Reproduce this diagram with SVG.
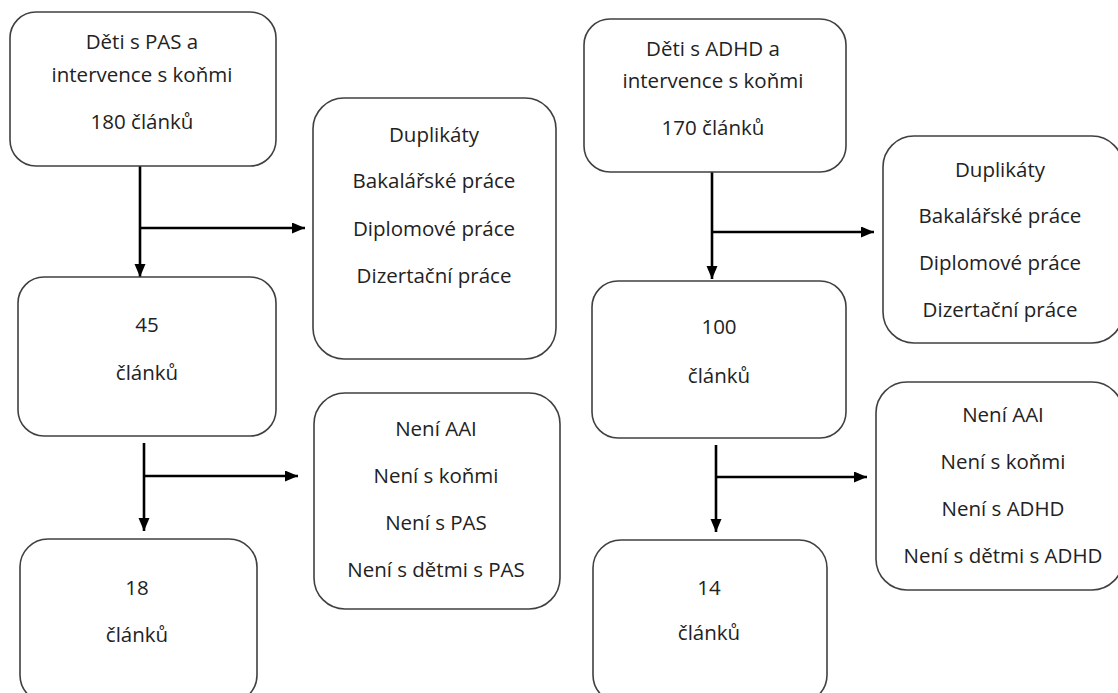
<svg xmlns="http://www.w3.org/2000/svg" width="1118" height="693" viewBox="0 0 1118 693">
<style>
.box{fill:#fff;stroke:#404040;stroke-width:1.6}
.t{font-family:"Open Sans","Liberation Sans",sans-serif;font-size:20.5px;fill:#222;text-anchor:middle}
.c{fill:none;stroke:#000;stroke-width:2.6}
</style>
<defs>
<marker id="ah" markerUnits="userSpaceOnUse" markerWidth="14" markerHeight="12" refX="13" refY="5.5" orient="auto">
<path d="M0,0 L13,5.5 L0,11 z" fill="#000"/>
</marker>
</defs>
<rect width="1118" height="693" fill="#fff"/>
<g id="connectors">
<line class="c" x1="140" y1="166" x2="140" y2="277" marker-end="url(#ah)"/>
<line class="c" x1="140" y1="228" x2="305" y2="228" marker-end="url(#ah)"/>
<line class="c" x1="144" y1="443" x2="144" y2="531" marker-end="url(#ah)"/>
<line class="c" x1="144" y1="476" x2="298" y2="476" marker-end="url(#ah)"/>
<line class="c" x1="712" y1="172" x2="712" y2="279" marker-end="url(#ah)"/>
<line class="c" x1="712" y1="232" x2="874" y2="232" marker-end="url(#ah)"/>
<line class="c" x1="716" y1="445" x2="716" y2="532" marker-end="url(#ah)"/>
<line class="c" x1="716" y1="477" x2="867" y2="477" marker-end="url(#ah)"/>
</g>
<g id="pas-start">
<rect class="box" x="10" y="12" width="266" height="154" rx="26"/>
<text class="t" x="142" y="49">Děti s PAS a</text>
<text class="t" x="142" y="82">intervence s koňmi</text>
<text class="t" x="142" y="129">180 článků</text>
</g>
<g id="pas-excl1">
<rect class="box" x="313" y="98" width="243" height="261" rx="31"/>
<text class="t" x="434" y="142">Duplikáty</text>
<text class="t" x="434" y="188">Bakalářské práce</text>
<text class="t" x="434" y="236">Diplomové práce</text>
<text class="t" x="434" y="283">Dizertační práce</text>
</g>
<g id="pas-45">
<rect class="box" x="18" y="277" width="258" height="159" rx="26"/>
<text class="t" x="147" y="332">45</text>
<text class="t" x="147" y="380">článků</text>
</g>
<g id="pas-excl2">
<rect class="box" x="314" y="393" width="246" height="216" rx="31"/>
<text class="t" x="436" y="436">Není AAI</text>
<text class="t" x="436" y="483">Není s koňmi</text>
<text class="t" x="436" y="530">Není s PAS</text>
<text class="t" x="436" y="577">Není s dětmi s PAS</text>
</g>
<g id="pas-18">
<rect class="box" x="20" y="539" width="237" height="164" rx="28"/>
<text class="t" x="137" y="595">18</text>
<text class="t" x="137" y="642">článků</text>
</g>
<g id="adhd-start">
<rect class="box" x="584" y="19" width="262" height="153" rx="26"/>
<text class="t" x="713" y="56">Děti s ADHD a</text>
<text class="t" x="713" y="88">intervence s koňmi</text>
<text class="t" x="713" y="135">170 článků</text>
</g>
<g id="adhd-excl1">
<rect class="box" x="883" y="136" width="240" height="207" rx="31"/>
<text class="t" x="1000" y="177">Duplikáty</text>
<text class="t" x="1000" y="223">Bakalářské práce</text>
<text class="t" x="1000" y="270">Diplomové práce</text>
<text class="t" x="1000" y="317">Dizertační práce</text>
</g>
<g id="adhd-100">
<rect class="box" x="592" y="281" width="254" height="157" rx="26"/>
<text class="t" x="719" y="334">100</text>
<text class="t" x="719" y="383">článků</text>
</g>
<g id="adhd-excl2">
<rect class="box" x="876" y="382" width="247" height="208" rx="31"/>
<text class="t" x="1003" y="422">Není AAI</text>
<text class="t" x="1003" y="469">Není s koňmi</text>
<text class="t" x="1003" y="516">Není s ADHD</text>
<text class="t" x="1003" y="563">Není s dětmi s ADHD</text>
</g>
<g id="adhd-14">
<rect class="box" x="593" y="540" width="234" height="163" rx="28"/>
<text class="t" x="709" y="595">14</text>
<text class="t" x="709" y="640">článků</text>
</g>
</svg>
